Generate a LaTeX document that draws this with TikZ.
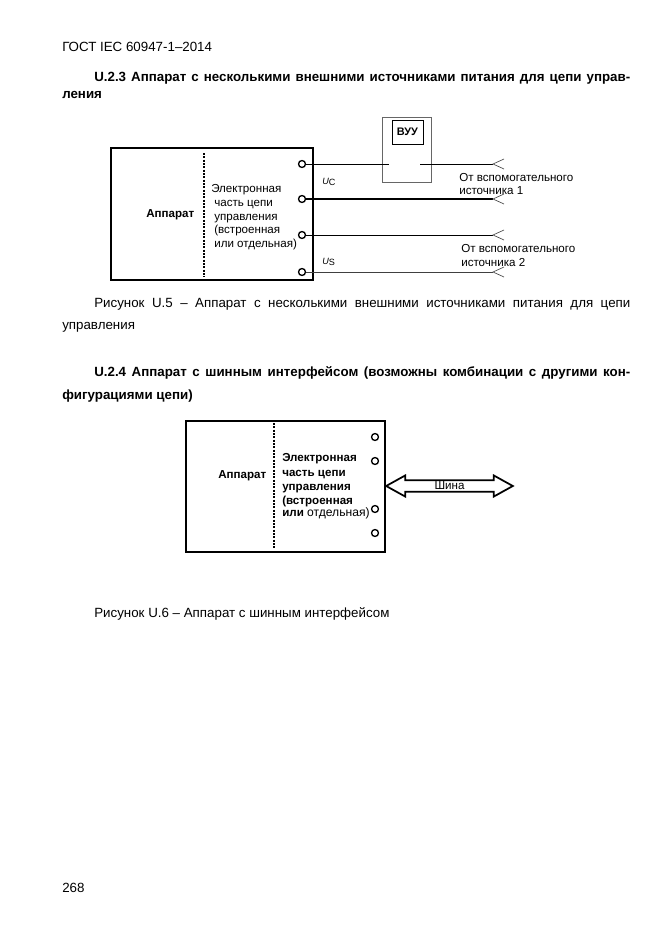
\documentclass[tikz,border=0pt]{standalone}
\usepackage{fontspec}
\setmainfont{Liberation Sans}
\usetikzlibrary{shapes.arrows}
\tikzset{
  txt/.style={anchor=base west,inner sep=0pt,font=\fontsize{10pt}{11pt}\selectfont},
  headtxt/.style={txt,font=\fontsize{10pt}{11pt}\selectfont\bfseries},
  lbl/.style={anchor=base west,inner sep=0pt,font=\fontsize{8.7pt}{10pt}\selectfont},
  lblb/.style={lbl,font=\fontsize{8.7pt}{10pt}\selectfont\bfseries},
  term/.style={circle,draw,line width=1pt,inner sep=0pt,minimum size=5.2pt},
  wire/.style={line width=0.75pt},
  devbox/.style={draw,line width=1.2pt},
  sepline/.style={line width=1.5pt,dash pattern=on 1.5pt off 1pt}
}
\newcommand{\fullline}[1]{\makebox[402pt][s]{#1}}
\begin{document}
\begin{tikzpicture}[x=0.75pt,y=-0.75pt]
\useasboundingbox (0,0) rectangle (661,935);
\fill[white] (0,0) rectangle (661,935);

% page text
\node[txt] (gost) at (62,51) {ГОСТ IEC 60947-1–2014};
\node[headtxt] (h1a) at (94,81) {\fullline{U.2.3 Аппарат с несколькими внешними источниками питания для цепи управ-}};
\node[headtxt] (h1b) at (62,98) {ления};
\node[txt] (cap1a) at (94,307) {\fullline{Рисунок U.5 – Аппарат с несколькими внешними источниками питания для цепи}};
\node[txt] (cap1b) at (62,329) {управления};
\node[headtxt] (h2a) at (94,376) {\fullline{U.2.4 Аппарат с шинным интерфейсом (возможны комбинации с другими кон-}};
\node[headtxt] (h2b) at (62,399) {фигурациями цепи)};
\node[txt] (cap2) at (94,617) {Рисунок U.6 – Аппарат с шинным интерфейсом};
\node[txt] (pagenum) at (62,892) {268};

% first picture
\draw[devbox] (111,148) rectangle (313,280);
\draw[sepline] (204,153) -- (204,277);
\node[lblb] (app1) at (146,217) {Аппарат};
\node[lbl] (el1) at (211,192) {Электронная};
\node[lbl] (el2) at (214,206) {часть цепи};
\node[lbl] (el3) at (214,220) {управления};
\node[lbl] (el4) at (214,233) {(встроенная};
\node[lbl] (el5) at (214,247) {или отдельная)};

\node[term] (t1) at (302,164) {};
\node[term] (t2) at (302,199) {};
\node[term] (t3) at (302,235) {};
\node[term] (t4) at (302,272) {};

\draw[gray!80!black,line width=0.7pt] (382,117) rectangle (431,182);
\node[draw,line width=0.7pt,minimum width=23.2pt,minimum height=18pt,inner sep=0pt,
  font=\fontsize{8.2pt}{10pt}\selectfont\bfseries] (vuu) at (407.5,132) {ВУУ};

\coordinate (gapa) at (389,164);
\coordinate (gapb) at (420,164);
\coordinate (e1) at (493,164);
\coordinate (e2) at (493,199);
\coordinate (e3) at (493,235);
\coordinate (e4) at (493,272);
\draw[wire] (t1) -- (gapa);
\draw[wire] (gapb) -- (e1);
\draw[wire,line width=1pt] (t2) -- (e2);
\draw[wire] (t3) -- (e3);
\draw[wire,black!75] (t4) -- (e4);
\foreach \e in {e1,e2,e3,e4} {
  \draw[black!70,line width=0.5pt] ([shift={(11,-5)}]\e) -- (\e) -- ([shift={(11,5)}]\e);
}

\node[lbl,font=\fontsize{6.8pt}{8pt}\selectfont] (uc) at (322,184) {\textit{U}\raisebox{-1pt}{C}};
\node[lbl,font=\fontsize{6.8pt}{8pt}\selectfont] (us) at (322,264) {\textit{U}\raisebox{-1pt}{S}};
\node[lbl] (src1a) at (459,181) {От вспомогательного};
\node[lbl] (src1b) at (459,194) {источника 1};
\node[lbl] (src2a) at (461,252) {От вспомогательного};
\node[lbl] (src2b) at (461,266) {источника 2};

% second picture
\draw[devbox,line width=1pt] (186,421) rectangle (385,552);
\draw[sepline] (274,423) -- (274,548);
\node[lblb] (app2) at (218,478) {Аппарат};
\node[lblb] (bl1) at (282,461) {Электронная};
\node[lblb] (bl2) at (282,476) {часть цепи};
\node[lblb] (bl3) at (282,490) {управления};
\node[lblb] (bl4) at (282,504) {(встроенная};
\node[lbl] (bl5) at (282,516) {\textbf{или} {\fontsize{9.1pt}{10pt}\selectfont отдельная)}};

\node[term] (b1) at (375,437) {};
\node[term] (b2) at (375,461) {};
\node[term] (b3) at (375,509) {};
\node[term] (b4) at (375,533) {};

\node[shape=double arrow,draw,line width=1.3pt,inner sep=0pt,minimum height=95pt,minimum width=15.8pt,
  double arrow head extend=3pt,double arrow tip angle=58,font=\fontsize{8.7pt}{8.5pt}\selectfont] (bus) at (449.5,486) {Шина};
\end{tikzpicture}
\end{document}
